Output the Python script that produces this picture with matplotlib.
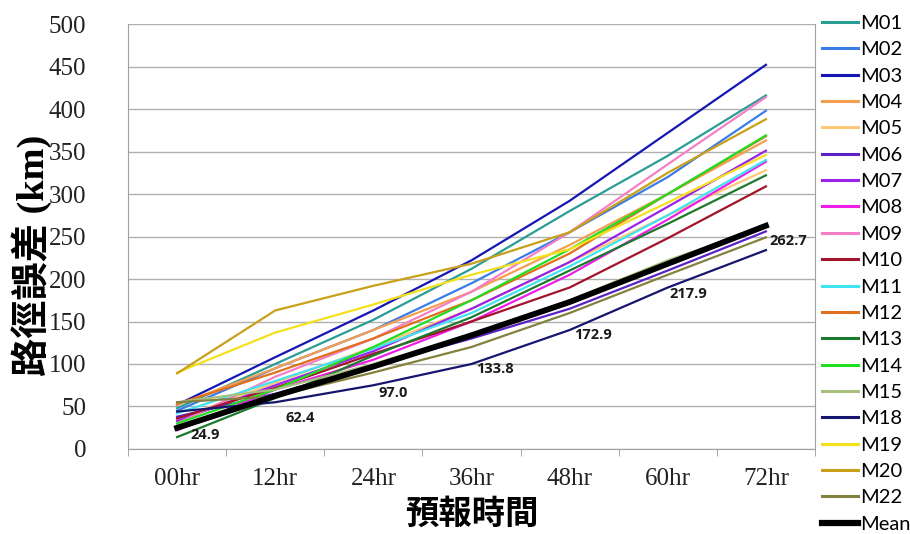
import matplotlib
matplotlib.use("Agg")
import matplotlib.pyplot as plt

# forecast lead times and track error (km) of each member
hours = ["00hr", "12hr", "24hr", "36hr", "48hr", "60hr", "72hr"]

M01 = [48, 100, 152, 212, 280, 345, 416]
M02 = [45, 95, 140, 195, 255, 320, 398]
M03 = [52, 108, 163, 222, 292, 372, 452]
M04 = [52, 95, 140, 185, 240, 300, 363]
M05 = [35, 78, 120, 165, 220, 275, 328]
M06 = [38, 65, 98, 130, 165, 210, 256]
M07 = [33, 75, 115, 165, 220, 285, 351]
M08 = [22, 70, 105, 150, 205, 270, 338]
M09 = [30, 85, 130, 185, 255, 335, 414]
M10 = [36, 72, 112, 150, 190, 248, 309]
M11 = [42, 80, 118, 160, 215, 275, 340]
M12 = [53, 90, 130, 175, 230, 300, 368]
M13 = [14, 60, 110, 155, 210, 265, 322]
M14 = [30, 70, 120, 175, 235, 300, 369]
M15 = [55, 70, 100, 135, 175, 222, 262]
M18 = [44, 55, 75, 100, 140, 190, 234]
M19 = [90, 137, 170, 205, 235, 290, 346]
M20 = [89, 163, 192, 218, 255, 325, 388]
M22 = [55, 62, 90, 120, 160, 205, 249]
Mean = [24.9, 62.4, 97.0, 133.8, 172.9, 217.9, 262.7]

names = ["M01", "M02", "M03", "M04", "M05", "M06", "M07", "M08", "M09", "M10",
         "M11", "M12", "M13", "M14", "M15", "M18", "M19", "M20", "M22"]
members = [M01, M02, M03, M04, M05, M06, M07, M08, M09, M10,
           M11, M12, M13, M14, M15, M18, M19, M20, M22]
colors = ["#2a9d94", "#3a7de8", "#1616b4", "#f59e4f", "#ffc877", "#5a22c4",
          "#9b22e6", "#ee1ee6", "#f47fc6", "#a0142c", "#40e4f0", "#e0701e",
          "#1b7a2c", "#22dd22", "#a8c07e", "#16166e", "#f4e01c", "#c9a01a",
          "#84803e"]

fig = plt.figure(figsize=(9.1, 5.34), dpi=100)
ax = fig.add_axes([0.1407, 0.1592, 0.7549, 0.7958])

x = range(len(hours))
for name, vals, c in zip(names, members, colors):
    ax.plot(x, vals, color=c, lw=1.6, label=name)
ax.plot(x, Mean, color="black", lw=4.2, label="Mean")

# mean value labels under each point
offsets = [(20, -5), (18, -16), (14, -19), (17, -24), (17, -24), (15, -22), (16, -11)]
for i, v in enumerate(Mean):
    ax.annotate(f"{v:.1f}", (i, v), xytext=offsets[i], textcoords="offset points",
                ha="center", va="center", fontsize=10.5, fontweight="bold",
                family="Open Sans", color="#1a1a1a")

ax.set_xlim(-0.5, 6.5)
ax.set_ylim(0, 500)
ax.set_yticks(range(0, 501, 50))
ax.set_xticks(list(x))
ax.set_xticklabels(hours)
ax.set_xticks([i + 0.5 for i in range(-1, 7)], minor=True)
ax.tick_params(axis="x", which="major", length=0, pad=14)
ax.tick_params(axis="x", which="minor", length=5, color="#999999")
ax.tick_params(axis="y", length=0, pad=30)
for lab in ax.get_xticklabels() + ax.get_yticklabels():
    lab.set_family("Liberation Serif")
    lab.set_fontsize(18)
    lab.set_color("#222222")

ax.grid(axis="y", color="#b0b0b0", lw=1)
for s in ["left", "bottom", "right"]:
    ax.spines[s].set_color("#a0a0a0")
ax.spines["top"].set_visible(False)

ax.set_ylabel("路徑誤差 (km)", family=["Liberation Serif", "Noto Sans CJK TC"],
              fontsize=27.5, fontweight="bold")
ax.yaxis.set_label_coords(-0.11, 0.455)
ax.set_xlabel("預報時間", family=["Noto Sans CJK TC"], fontsize=24,
              fontweight="bold", labelpad=5)

leg = ax.legend(loc="upper left", bbox_to_anchor=(0.993, 1.05), frameon=False,
                prop={"family": "Lato", "size": 14.5}, handlelength=1.75,
                handletextpad=0.12, labelspacing=0.46, borderaxespad=0.2)
for h in leg.legend_handles:
    h.set_linewidth(2.2)
leg.legend_handles[-1].set_linewidth(4.5)

fig.savefig("out.png", dpi=100)
